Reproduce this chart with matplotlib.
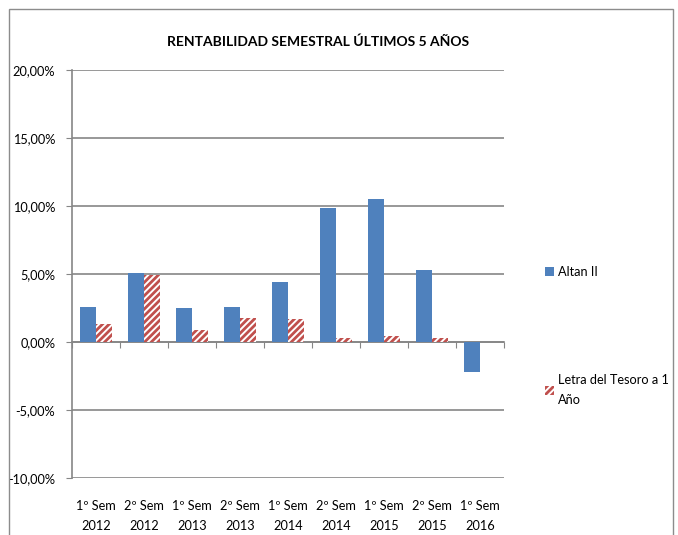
import numpy as np
import matplotlib.pyplot as plt
from matplotlib.patches import Rectangle, Patch

# Data (percent)
categories = ["1º Sem\n2012", "2º Sem\n2012", "1º Sem\n2013", "2º Sem\n2013", "1º Sem\n2014",
              "2º Sem\n2014", "1º Sem\n2015", "2º Sem\n2015", "1º Sem\n2016"]
altan = [2.61, 5.10, 2.47, 2.54, 4.44, 9.85, 10.51, 5.29, -2.17]
letra = [1.30, 4.95, 0.86, 1.76, 1.66, 0.29, 0.42, 0.29, 0.0]
yticks = [-10, -5, 0, 5, 10, 15, 20]
ytick_labels = ["-10,00%", "-5,00%", "0,00%", "5,00%", "10,00%", "15,00%", "20,00%"]

plt.rcParams['font.family'] = ["Lato", "DejaVu Sans"]
plt.rcParams['hatch.linewidth'] = 2.0

BLUE = "#4f81bd"
RED = "#c0504d"
GRID = "#868686"
FS = 9.2

W, H = 678, 535
fig = plt.figure(figsize=(W / 100, H / 100), dpi=100)
ax = fig.add_axes([72 / W, 1 - 478 / H, (504 - 72) / W, (478 - 70) / H])

# chart border
fig.patches.append(Rectangle((8.5 / W, -0.05), (673 - 8.5) / W, 1.05 - 9 / H,
                             transform=fig.transFigure, fill=False, edgecolor="#8c8c8c", linewidth=1))

x = np.arange(len(categories))
bw = 1 / 3
ax.bar(x - bw / 2, altan, width=bw, color=BLUE, zorder=3, label="Altan II")
ax.bar(x + bw / 2, letra, width=bw, facecolor="white", edgecolor=RED, hatch="/////",
       linewidth=0, zorder=3, label="Letra del Tesoro a 1\nAño")

ax.set_xlim(-0.5, len(categories) - 0.5)
ax.set_ylim(-10, 20)
ax.set_yticks(yticks)
ax.set_yticklabels(ytick_labels, fontsize=FS)
ax.yaxis.grid(True, color=GRID, linewidth=1.2, zorder=0)
ax.tick_params(axis='y', length=4, color=GRID, pad=8)

# zero line with category boundary ticks
for s in ["top", "right"]:
    ax.spines[s].set_visible(False)
ax.spines["left"].set_color(GRID)
ax.spines["left"].set_linewidth(1.2)
ax.spines["bottom"].set_position(("data", 0))
ax.spines["bottom"].set_color(GRID)
ax.spines["bottom"].set_linewidth(1.2)
ax.set_xticks(np.arange(-0.5, len(categories), 1))
ax.set_xticklabels([])
ax.tick_params(axis='x', length=4, color=GRID, direction="out")

# category labels at the bottom of the plot area
sec = ax.secondary_xaxis("bottom")
sec.set_xticks(x)
sec.set_xticklabels(categories, fontsize=FS, linespacing=1.75)
sec.tick_params(length=0, pad=16)
sec.spines["bottom"].set_visible(False)

fig.text(318 / W, 1 - 42 / H, "RENTABILIDAD SEMESTRAL ÚLTIMOS 5 AÑOS",
         ha="center", va="center", fontsize=10, fontweight="bold")

h1 = Patch(facecolor=BLUE)
h2 = Patch(facecolor="white", edgecolor=RED, hatch="/////", linewidth=0)
leg1 = fig.legend([h1], ["Altan II"], loc="center left", bbox_to_anchor=(533 / W, 1 - 272 / H),
                  frameon=False, fontsize=FS, handlelength=0.75, handleheight=0.75, handletextpad=0.3)
leg2 = fig.legend([h2], ["Letra del Tesoro a 1\nAño"], loc="center left",
                  bbox_to_anchor=(533 / W, 1 - 390 / H), frameon=False, fontsize=FS,
                  handlelength=0.75, handleheight=0.75, handletextpad=0.3)
for t in leg2.get_texts():
    t.set_linespacing(1.9)

fig.savefig("out.png", dpi=100)
